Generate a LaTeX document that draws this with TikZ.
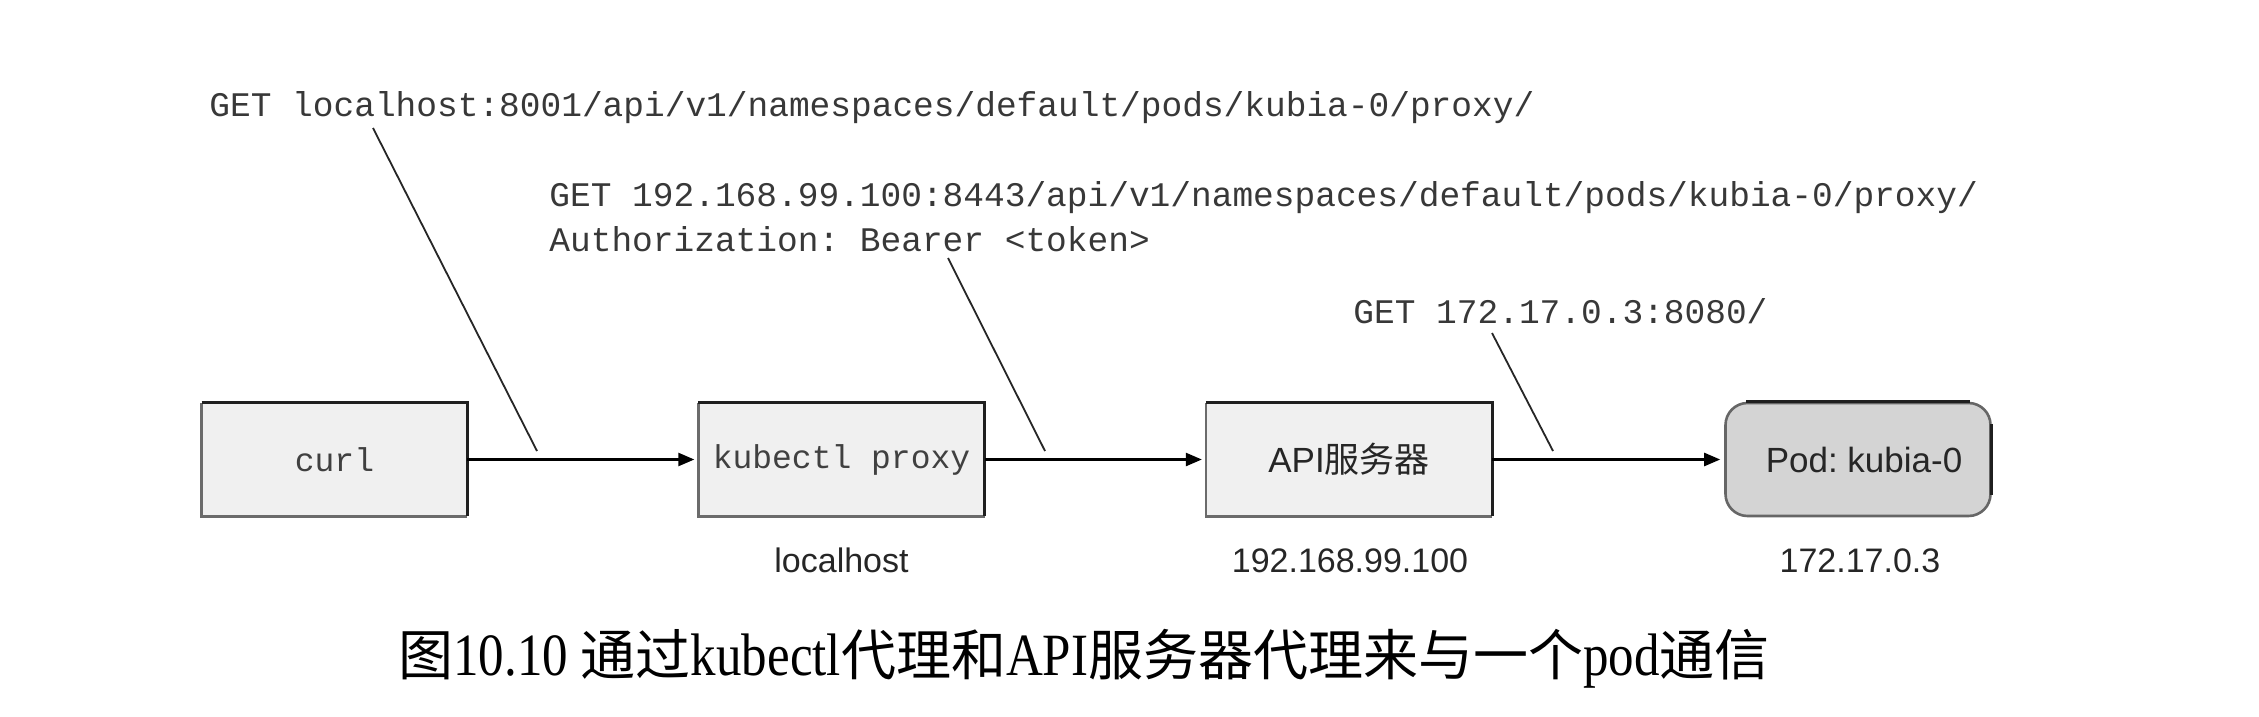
\documentclass[tikz,border=0pt]{standalone}
\usepackage{fontspec}
\setmainfont{Liberation Serif}
\newfontfamily\monof{Liberation Mono}
\newfontfamily\sansf{Liberation Sans}
\newfontfamily\cjk{Noto Sans CJK SC}
\newfontfamily\capf{Liberation Serif}[FakeStretch=0.85]
\usetikzlibrary{arrows.meta}
\frenchspacing
\tikzset{
  boxstyle/.style={draw=none, fill=#1, minimum height=56.5pt, inner sep=0pt},
  narrowbox/.style={minimum width=132.5pt},
  widebox/.style={minimum width=142.75pt},
  edgelow/.style={draw=black!58, line width=1.3pt},
  edgehigh/.style={draw=black!88, line width=1.4pt},
  flow/.style={draw=black, line width=1.2pt, -{Triangle[length=8pt,width=6.5pt]}, shorten >=2pt},
  leader/.style={draw=black!85, line width=0.9pt},
  reqtext/.style={inner sep=0pt, anchor=base west, text=black!78, font=\monof\fontsize{17.25pt}{22pt}\selectfont},
  boxmono/.style={text=black!75, font=\monof\fontsize{16.5pt}{20pt}\selectfont},
  boxsans/.style={text=black!85, font=\sansf\fontsize{17.5pt}{21pt}\selectfont},
  hostlabel/.style={inner sep=0pt, anchor=base, text=black!85, font=\sansf\fontsize{17pt}{20pt}\selectfont},
}
\begin{document}
\begin{tikzpicture}[x=0.5pt,y=-0.5pt]
\useasboundingbox (0,0) rectangle (2259,717);
\fill[white] (0,0) rectangle (2259,717);

% request texts
\node[reqtext] (req1) at (209,117) {GET localhost:8001/api/v1/namespaces/default/pods/kubia-0/proxy/};
\node[reqtext] (req2a) at (549,206) {GET 192.168.99.100:8443/api/v1/namespaces/default/pods/kubia-0/proxy/};
\node[reqtext] (req2b) at (549,251) {Authorization: Bearer <token>};
\node[reqtext] (req3) at (1353,323) {GET 172.17.0.3:8080/};

% boxes
\node[boxstyle=black!6, narrowbox] (curl) at (334.5,459.5) {};
\node[boxstyle=black!6, widebox] (kp) at (841.5,459.5) {};
\node[boxstyle=black!6, widebox] (api) at (1349,459.5) {};
\node[boxstyle=black!17, narrowbox, draw=black!60, line width=1.3pt, rounded corners=11pt] (pod) at (1858,459.5) {};

\foreach \b in {curl,kp,api}{
  \draw[edgelow] (\b.north west) -- (\b.south west) -- (\b.south east);
  \draw[edgehigh] (\b.north west) -- (\b.north east) -- (\b.south east);
}
\draw[edgehigh] ([xshift=11pt]pod.north west) -- ([xshift=-11pt]pod.north east);
\draw[edgehigh] ([yshift=-11pt]pod.north east) -- ([yshift=11pt]pod.south east);

% box texts
\node[boxmono] at (curl.center) {curl};
\node[boxmono] at (kp.center) {kubectl proxy};
\node[boxsans] at (api.center) {API{\cjk 服务器}};
\node[boxsans] at ([xshift=3pt]pod.center) {Pod: kubia-0};

% host labels
\node[hostlabel] (l1) at (841.5,572) {localhost};
\node[hostlabel] (l2) at (1350,572) {192.168.99.100};
\node[hostlabel] (l3) at (1860,572) {172.17.0.3};

% connectors
\draw[flow] (curl.east) -- (kp.west);
\draw[flow] (kp.east) -- (api.west);
\draw[flow] (api.east) -- (pod.west);

% leader lines
\coordinate (a1) at (373,128);
\coordinate (b1) at (537,451);
\coordinate (a2) at (948,258);
\coordinate (b2) at (1045,451);
\coordinate (a3) at (1492,333);
\coordinate (b3) at (1553,451);
\draw[leader] (a1) -- (b1);
\draw[leader] (a2) -- (b2);
\draw[leader] (a3) -- (b3);

% caption
\node[inner sep=0pt, anchor=base west, font=\capf\fontsize{30pt}{34pt}\selectfont] (cap) at (398,675)
  {{\cjk\fontsize{27.5pt}{34pt}\selectfont 图}10.10 {\cjk\fontsize{27.5pt}{34pt}\selectfont 通过}kubectl{\cjk\fontsize{27.5pt}{34pt}\selectfont 代理和}API{\cjk\fontsize{27.5pt}{34pt}\selectfont 服务器代理来与一个}pod{\cjk\fontsize{27.5pt}{34pt}\selectfont 通信}};
\end{tikzpicture}
\end{document}
